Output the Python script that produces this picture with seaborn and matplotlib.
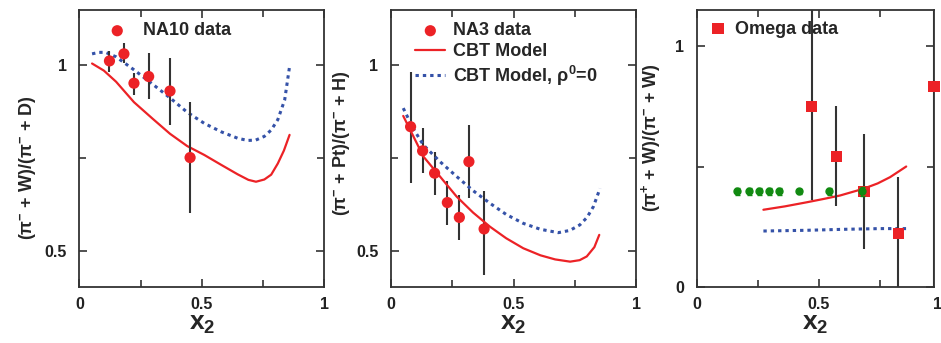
import numpy as np
import pandas as pd
import seaborn as sns
import matplotlib.pyplot as plt

# ---- data ----
# panel 1: NA10 (pi- W)/(pi- D)
na10_x = [0.123, 0.182, 0.223, 0.283, 0.370, 0.452]
na10_y = [1.011, 1.030, 0.951, 0.969, 0.930, 0.751]
na10_lo = [0.980, 1.005, 0.919, 0.909, 0.839, 0.601]
na10_hi = [1.038, 1.060, 0.978, 1.031, 1.020, 0.901]

cbt1_x = [0.052, 0.10, 0.15, 0.223, 0.30, 0.37, 0.44, 0.51, 0.58, 0.646, 0.69, 0.721, 0.755, 0.783, 0.81, 0.835, 0.858]
cbt1_y = [1.004, 0.985, 0.955, 0.900, 0.855, 0.815, 0.782, 0.758, 0.731, 0.706, 0.691, 0.686, 0.692, 0.705, 0.735, 0.770, 0.812]
rho1_x = [0.052, 0.08, 0.107, 0.15, 0.223, 0.30, 0.373, 0.44, 0.51, 0.58, 0.646, 0.687, 0.72, 0.755, 0.783, 0.81, 0.838, 0.858]
rho1_y = [1.030, 1.034, 1.034, 1.022, 0.987, 0.948, 0.910, 0.873, 0.843, 0.820, 0.803, 0.797, 0.798, 0.808, 0.825, 0.853, 0.906, 0.996]

# panel 2: NA3 (pi- Pt)/(pi- H)
na3_x = [0.080, 0.129, 0.178, 0.230, 0.279, 0.318, 0.380]
na3_y = [0.834, 0.769, 0.709, 0.630, 0.590, 0.740, 0.559]
na3_lo = [0.682, 0.709, 0.651, 0.570, 0.530, 0.642, 0.435]
na3_hi = [0.982, 0.830, 0.767, 0.689, 0.651, 0.839, 0.660]

cbt2_x = [0.05, 0.09, 0.132, 0.20, 0.268, 0.335, 0.404, 0.47, 0.54, 0.61, 0.67, 0.731, 0.77, 0.799, 0.83, 0.85]
cbt2_y = [0.863, 0.810, 0.754, 0.700, 0.646, 0.603, 0.565, 0.534, 0.507, 0.488, 0.477, 0.471, 0.475, 0.485, 0.510, 0.543]
rho2_x = [0.05, 0.09, 0.132, 0.20, 0.268, 0.335, 0.404, 0.47, 0.54, 0.61, 0.683, 0.73, 0.771, 0.80, 0.826, 0.853]
rho2_y = [0.884, 0.830, 0.785, 0.740, 0.700, 0.662, 0.628, 0.598, 0.574, 0.558, 0.549, 0.555, 0.570, 0.590, 0.619, 0.668]

# panel 3: Omega (pi+ W)/(pi- W)
omega_x = [0.470, 0.570, 0.684, 0.825, 0.971]
omega_y = [0.748, 0.543, 0.397, 0.224, 0.831]
omega_lo = [0.360, 0.336, 0.157, 0.0, 0.0]
omega_hi = [1.20, 0.749, 0.635, 0.456, 1.20]

green_x = [0.165, 0.212, 0.253, 0.294, 0.337, 0.419, 0.542, 0.677]
green_y = [0.397, 0.397, 0.397, 0.397, 0.397, 0.397, 0.397, 0.397]
green_err = [0.014, 0.016, 0.016, 0.016, 0.014, 0.010, 0.016, 0.02]

cbt3_x = [0.272, 0.36, 0.45, 0.52, 0.586, 0.682, 0.74, 0.791, 0.857]
cbt3_y = [0.321, 0.335, 0.352, 0.366, 0.380, 0.408, 0.430, 0.456, 0.500]
rho3_x = [0.272, 0.45, 0.60, 0.75, 0.857]
rho3_y = [0.233, 0.236, 0.240, 0.243, 0.243]

RED = '#ec2226'
BLUE = '#3552a8'
GREEN = '#118a11'
DARK = '#333333'

sns.set_style('ticks')
plt.rcParams['font.family'] = ['Liberation Sans', 'DejaVu Sans']
plt.rcParams['font.weight'] = 'bold'
plt.rcParams['axes.labelweight'] = 'bold'
plt.rcParams['mathtext.fontset'] = 'custom'
plt.rcParams['mathtext.rm'] = 'Liberation Sans:bold'
plt.rcParams['mathtext.bf'] = 'Liberation Sans:bold'
plt.rcParams['mathtext.it'] = 'Liberation Sans:bold'
plt.rcParams['mathtext.default'] = 'rm'

fig = plt.figure(figsize=(9.41, 3.43), dpi=100)
ax1 = fig.add_axes([0.0843, 0.1624, 0.2604, 0.8085])
ax2 = fig.add_axes([0.4155, 0.1624, 0.2604, 0.8085])
ax3 = fig.add_axes([0.7407, 0.1624, 0.2519, 0.8085])

dots = (0, (1.1, 1.3))


def style_axes(ax, ylabel, label_xy):
    ax.tick_params(which='both', direction='in', top=True, right=True,
                   colors=DARK, labelcolor='#222222', width=1.2)
    ax.tick_params(which='major', length=6, labelsize=11.5)
    ax.tick_params(which='minor', length=5)
    ax.tick_params(axis='x', pad=7)
    ax.tick_params(axis='y', pad=9)
    for s in ax.spines.values():
        s.set_color(DARK)
        s.set_linewidth(1.3)
    ax.set_xlabel('x$_{2}$', fontsize=19, labelpad=0)
    ax.set_ylabel(ylabel, fontsize=13)
    ax.yaxis.set_label_coords(*label_xy)


def errbars(ax, x, y, lo, hi, color=DARK, lw=1.5, cap=0):
    yerr = [np.array(y) - np.array(lo), np.array(hi) - np.array(y)]
    ax.errorbar(x, y, yerr=yerr, fmt='none', ecolor=color, elinewidth=lw,
                capsize=cap, zorder=2)


# ---- panel 1 ----
sns.lineplot(x=cbt1_x, y=cbt1_y, ax=ax1, color=RED, lw=1.6, sort=False)
sns.lineplot(x=rho1_x, y=rho1_y, ax=ax1, color=BLUE, lw=2.2, linestyle=dots, sort=False)
errbars(ax1, na10_x, na10_y, na10_lo, na10_hi)
sns.scatterplot(x=na10_x, y=na10_y, ax=ax1, color=RED, s=65, edgecolor='none',
                zorder=3, label='NA10 data')
ax1.set_xlim(0, 1)
ax1.set_ylim(0.402, 1.148)
ax1.set_xticks([0, 0.5, 1], ['0', '0.5', '1'])
ax1.set_xticks([0.25, 0.75], minor=True)
ax1.set_yticks([0.5, 1], ['0.5', '1'])
ax1.set_yticks([0.75], minor=True)
style_axes(ax1, '(π$^{-}$ + W)/(π$^{-}$ + D)', (-0.17, 0.43))
ax1.legend(loc='upper left', bbox_to_anchor=(0.07, 0.968), frameon=False,
           fontsize=13, handlelength=1.9, handletextpad=0.45, borderaxespad=0,
           borderpad=0.2)

# ---- panel 2 ----
errbars(ax2, na3_x, na3_y, na3_lo, na3_hi)
sns.scatterplot(x=na3_x, y=na3_y, ax=ax2, color=RED, s=65, edgecolor='none',
                zorder=3, label='NA3 data')
sns.lineplot(x=cbt2_x, y=cbt2_y, ax=ax2, color=RED, lw=1.6, sort=False,
             label='CBT Model')
sns.lineplot(x=rho2_x, y=rho2_y, ax=ax2, color=BLUE, lw=2.2, linestyle=dots,
             sort=False, label='CBT Model, ρ$^{0}$=0')
ax2.set_xlim(0, 1)
ax2.set_ylim(0.402, 1.148)
ax2.set_xticks([0, 0.5, 1], ['0', '0.5', '1'])
ax2.set_xticks([0.25, 0.75], minor=True)
ax2.set_yticks([0.5, 1], ['0.5', '1'])
ax2.set_yticks([0.75], minor=True)
style_axes(ax2, '(π$^{-}$ + Pt)/(π$^{-}$ + H)', (-0.16, 0.52))
ax2.legend(loc='upper left', bbox_to_anchor=(0.085, 0.968), frameon=False,
           fontsize=13, handlelength=1.65, handletextpad=0.42, borderaxespad=0,
           borderpad=0.2, labelspacing=0.2)

# ---- panel 3 ----
sns.lineplot(x=cbt3_x, y=cbt3_y, ax=ax3, color=RED, lw=1.6, sort=False)
sns.lineplot(x=rho3_x, y=rho3_y, ax=ax3, color=BLUE, lw=2.2, linestyle=dots, sort=False)
errbars(ax3, omega_x, omega_y, omega_lo, omega_hi)
ax3.errorbar(green_x, green_y, yerr=green_err, fmt='o', color=GREEN, ms=5,
             elinewidth=1.2, capsize=1.8, zorder=4)
sns.scatterplot(x=omega_x, y=omega_y, ax=ax3, color=RED, marker='s', s=65,
                edgecolor='none', zorder=3, label='Omega data', clip_on=False)
ax3.set_xlim(0, 0.971)
ax3.set_ylim(0, 1.148)
ax3.set_xticks([0, 0.5], ['0', '0.5'])
ax3.set_xticks([0.25, 0.75], minor=True)
ax3.set_yticks([0, 1], ['0', '1'])
ax3.set_yticks([0.5], minor=True)
style_axes(ax3, '(π$^{+}$ + W)/(π$^{-}$ + W)', (-0.142, 0.54))
ax3.text(0.984, -0.035, '1', transform=ax3.get_xaxis_transform(), ha='center',
         va='top', fontsize=11.5, color='#222222', clip_on=False)
ax3.legend(loc='upper left', bbox_to_anchor=(0.035, 0.975), frameon=False,
           fontsize=13, handlelength=1.0, handletextpad=0.45, borderaxespad=0,
           borderpad=0.2)

fig.savefig('out.png', dpi=100)
